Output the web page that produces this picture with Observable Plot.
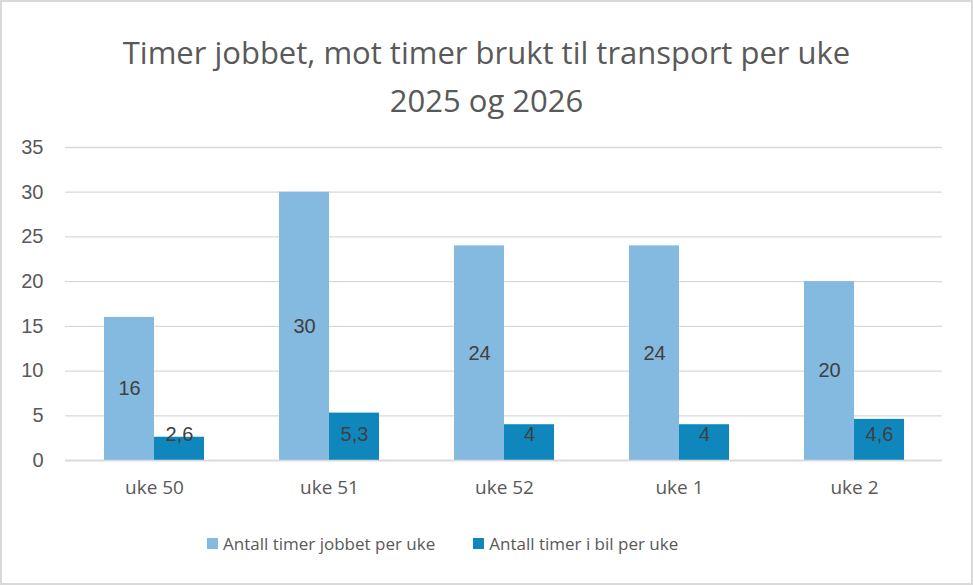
<!DOCTYPE html>
<html>
<head>
<meta charset="utf-8">
<script src="https://cdn.jsdelivr.net/npm/d3@7"></script>
<script src="https://cdn.jsdelivr.net/npm/@observablehq/plot@0.6"></script>
<style>
  html, body { margin: 0; padding: 0; background: #fff; }
  #wrap { position: relative; width: 973px; height: 585px; overflow: hidden; background: #fff; }
  #frame { position: absolute; left: 0; top: 0; width: 973px; height: 585px; box-sizing: border-box; border: 2px solid #d9d9d9; pointer-events: none; }
  #title { position: absolute; left: 0; top: 28px; width: 973px; text-align: center; font-family: "Open Sans", sans-serif; font-size: 31px; line-height: 48px; color: #595959; }
  #chart { position: absolute; left: 0; top: 0; }
  #legend { position: absolute; left: 207px; top: 532px; display: flex; align-items: center; font-family: "Open Sans", sans-serif; font-size: 17px; color: #595959; }
  .sw { display: inline-block; width: 11px; height: 11px; margin-right: 5px; }
  .item { display: flex; align-items: center; margin-right: 38px; }
</style>
</head>
<body>
<div id="wrap">
  <div id="chart"></div>
  <div id="title">Timer jobbet, mot timer brukt til transport per uke<br>2025 og 2026</div>
  <div id="legend"></div>
  <div id="frame"></div>
</div>
<script>
const categories = ["uke 50", "uke 51", "uke 52", "uke 1", "uke 2"];
const seriesNames = ["Antall timer jobbet per uke", "Antall timer i bil per uke"];
const jobbet = [16, 30, 24, 24, 20];
const bil = [2.6, 5.3, 4, 4, 4.6];
const yTicks = [0, 5, 10, 15, 20, 25, 30, 35];
const colors = ["#84B9E0", "#0F87BD"];

const rowsA = categories.map((c, i) => ({uke: c, value: jobbet[i]}));
const rowsB = categories.map((c, i) => ({uke: c, value: bil[i]}));
const fmt = v => String(v).replace(".", ",");

const numFont = "'Liberation Sans', Arial, sans-serif";
const narrowFont = "'Open Sans', sans-serif";

const plot = Plot.plot({
  width: 973,
  height: 585,
  marginTop: 147,
  marginBottom: 125,
  marginLeft: 65,
  marginRight: 31,
  style: {background: "transparent", overflow: "visible"},
  x: {domain: categories, paddingInner: 0.43, paddingOuter: 0.215, label: null},
  y: {domain: [0, 35], label: null},
  marks: [
    Plot.gridY(yTicks, {stroke: "#d9d9d9", strokeOpacity: 1, strokeWidth: 1.3}),
    Plot.barY(rowsA, {x: "uke", y: "value", fill: colors[0], insetLeft: 0, insetRight: 50}),
    Plot.barY(rowsB, {x: "uke", y: "value", fill: colors[1], insetLeft: 50, insetRight: 0}),
    Plot.ruleY([0], {stroke: "#d9d9d9", strokeWidth: 1.3}),
    Plot.text(rowsA, {x: "uke", y: d => d.value / 2, text: d => fmt(d.value), dx: -25, fill: "#404040", fontSize: 20, fontFamily: numFont}),
    Plot.text(rowsB, {x: "uke", y: 0, text: d => fmt(d.value), dx: 25, dy: -26, fill: "#404040", fontSize: 20, fontFamily: numFont}),
    Plot.axisY(yTicks, {tickSize: 0, tickPadding: 22, fontSize: 20, fontFamily: numFont, fill: "#595959", label: null}),
    Plot.axisX({tickSize: 0, tickPadding: 20, fontSize: 19, fontFamily: narrowFont, fill: "#595959", label: null})
  ]
});
document.getElementById("chart").appendChild(plot);

const legend = document.getElementById("legend");
seriesNames.forEach((name, i) => {
  const item = document.createElement("div");
  item.className = "item";
  const sw = document.createElement("span");
  sw.className = "sw";
  sw.style.background = colors[i];
  const t = document.createElement("span");
  t.textContent = name;
  item.appendChild(sw);
  item.appendChild(t);
  legend.appendChild(item);
});
</script>
</body>
</html>
